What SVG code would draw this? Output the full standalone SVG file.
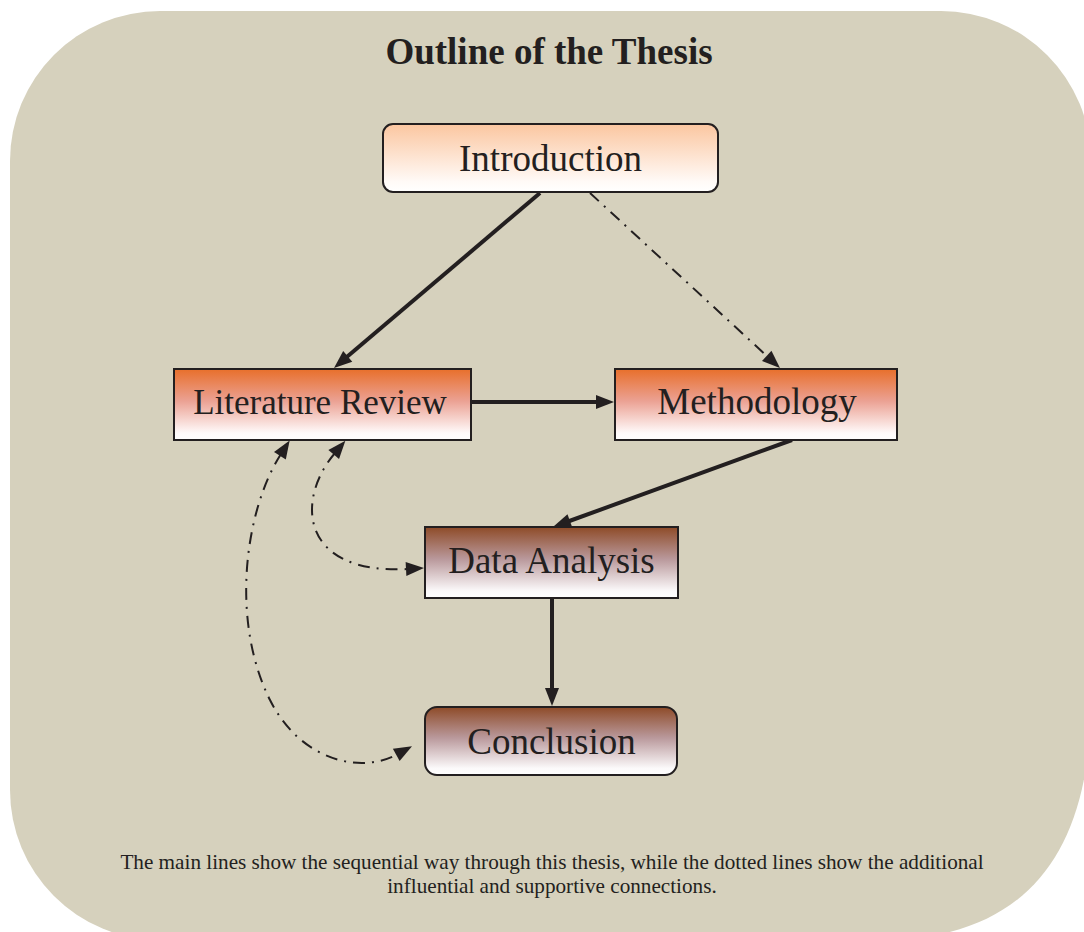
<svg xmlns="http://www.w3.org/2000/svg" width="1084" height="932" viewBox="0 0 1084 932">
<style>
.lbl{font-family:"Liberation Serif","Times New Roman",serif;fill:#231f20;text-anchor:middle}
.box{stroke:#231f20;stroke-width:2}
.solid{fill:none;stroke:#231f20;stroke-width:4}
.dash{fill:none;stroke:#231f20;stroke-width:2;stroke-dasharray:12 7 2 7}
</style>
<defs>
<linearGradient id="gIntro" x1="0" y1="0" x2="0" y2="1">
<stop offset="0" stop-color="#fbc6a0"/><stop offset="0.85" stop-color="#fffaf7"/><stop offset="1" stop-color="#ffffff"/>
</linearGradient>
<linearGradient id="gOrange" x1="0" y1="0" x2="0" y2="1">
<stop offset="0" stop-color="#e86f2b"/><stop offset="0.45" stop-color="#eba193"/><stop offset="0.9" stop-color="#fffafa"/><stop offset="1" stop-color="#ffffff"/>
</linearGradient>
<linearGradient id="gBrown" x1="0" y1="0" x2="0" y2="1">
<stop offset="0" stop-color="#8e4b28"/><stop offset="0.45" stop-color="#b9989b"/><stop offset="0.9" stop-color="#fbf9fa"/><stop offset="1" stop-color="#ffffff"/>
</linearGradient>
<marker id="ah" markerUnits="userSpaceOnUse" markerWidth="18" markerHeight="14" refX="2" refY="7" orient="auto-start-reverse" overflow="visible">
<path d="M0,0 L18,7 L0,14 z" fill="#231f20"/>
</marker>
</defs>
<path id="background" d="M160 11 H941 A150 150 0 0 1 1091 161 V700 C1091 860 1020 940 880 940 H160 A150 150 0 0 1 10 790 V161 A150 150 0 0 1 160 11 Z" fill="#d6d1bd"/>
<text class="lbl" x="549" y="64" font-size="37" font-weight="bold">Outline of the Thesis</text>
<g id="connectors">
<line class="solid" x1="540" y1="193" x2="346.2" y2="357.6" marker-end="url(#ah)"/>
<line class="dash" x1="590" y1="193" x2="768.2" y2="357.2" marker-end="url(#ah)"/>
<line class="solid" x1="472" y1="402" x2="598" y2="402" marker-end="url(#ah)"/>
<line class="solid" x1="792" y1="440" x2="568" y2="521.5" marker-end="url(#ah)"/>
<line class="solid" x1="552" y1="599" x2="552" y2="690" marker-end="url(#ah)"/>
<path class="dash" d="M335 453 C295 500 300 575 408 569" marker-start="url(#ah)" marker-end="url(#ah)"/>
<path class="dash" d="M281 454 C245 510 230 620 270 700 C300 760 360 775 398 754" marker-start="url(#ah)" marker-end="url(#ah)"/>
</g>
<g id="introduction">
<rect class="box" x="383" y="124" width="335" height="68" rx="10" fill="url(#gIntro)"/>
<text class="lbl" x="550.5" y="171" font-size="37">Introduction</text>
</g>
<g id="literature-review">
<rect class="box" x="174" y="369" width="297" height="71" fill="url(#gOrange)"/>
<text class="lbl" x="320" y="414" font-size="35">Literature Review</text>
</g>
<g id="methodology">
<rect class="box" x="615" y="369" width="282" height="71" fill="url(#gOrange)"/>
<text class="lbl" x="757" y="414" font-size="37">Methodology</text>
</g>
<g id="data-analysis">
<rect class="box" x="425" y="527" width="253" height="71" fill="url(#gBrown)"/>
<text class="lbl" x="551.5" y="573" font-size="37">Data Analysis</text>
</g>
<g id="conclusion">
<rect class="box" x="425" y="707" width="252" height="68" rx="12" fill="url(#gBrown)"/>
<text class="lbl" x="551.5" y="754" font-size="37">Conclusion</text>
</g>
<g id="footer">
<text class="lbl" x="552" y="869" font-size="21.2">The main lines show the sequential way through this thesis, while the dotted lines show the additional</text>
<text class="lbl" x="552" y="893" font-size="21.2">influential and supportive connections.</text>
</g>
</svg>
